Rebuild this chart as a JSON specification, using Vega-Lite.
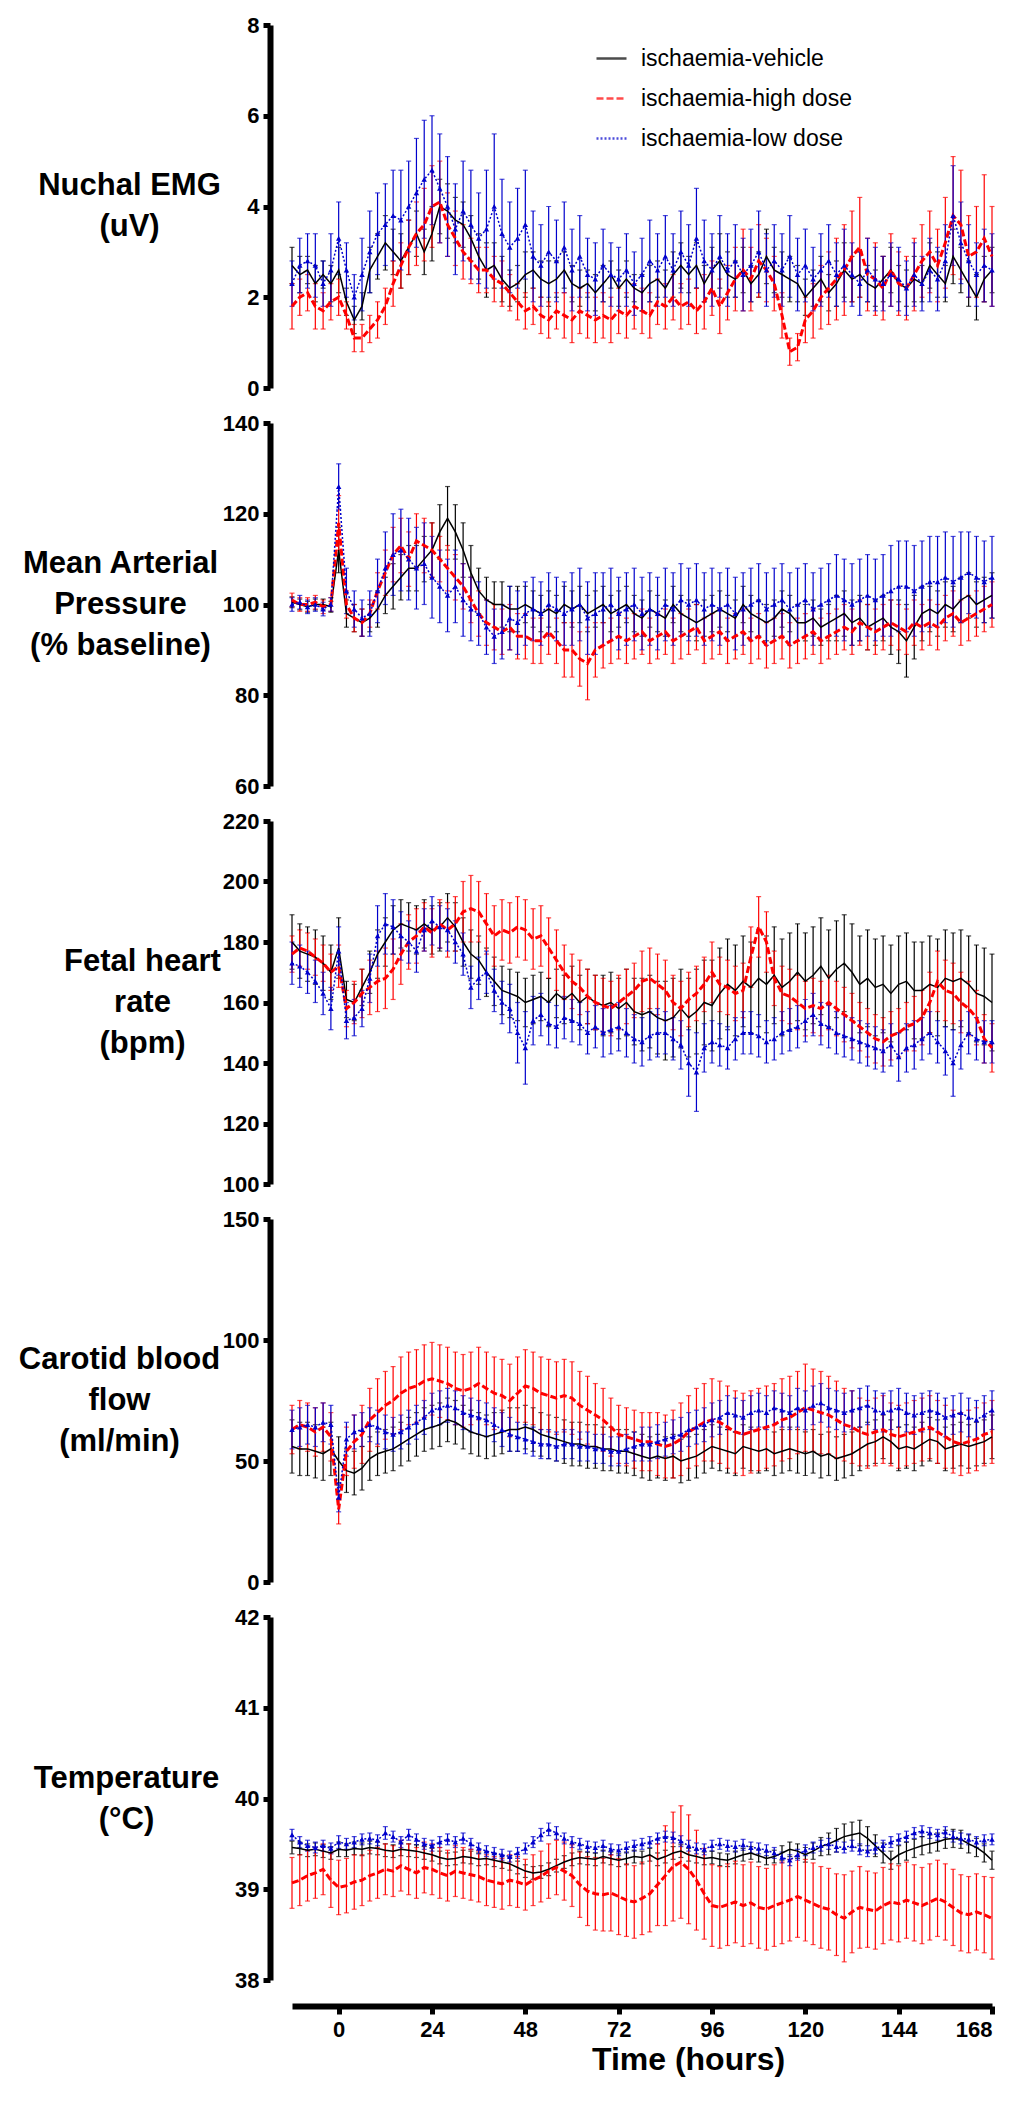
{
  "$schema": "https://vega.github.io/schema/vega-lite/v6.json",
  "background": "white",
  "padding": {"left": 18, "top": 14, "right": 10, "bottom": 10},
  "config": {
    "view": {"stroke": null},
    "font": "Liberation Sans",
    "axis": {
      "grid": false,
      "labelColor": "#000000",
      "labelFont": "Liberation Sans",
      "labelFontWeight": "bold",
      "labelFontSize": 22,
      "titleColor": "#000000",
      "titleFont": "Liberation Sans",
      "titleFontWeight": "bold"
    },
    "axisY": {
      "offset": 22,
      "labelPadding": 4,
      "titleFontSize": 31,
      "titleAngle": 0,
      "titleAlign": "center",
      "titleBaseline": "middle",
      "titleLineHeight": 41
    },
    "axisX": {"offset": 26, "labelPadding": 5, "titleFontSize": 32, "titlePadding": 4}
  },
  "datasets": {
    "emg": [
      {"s":"v","t":-12,"m":2.7,"e":0.4},{"s":"v","t":-10,"m":2.5,"e":0.4},{"s":"v","t":-8,"m":2.6,"e":0.3},{"s":"v","t":-6,"m":2.3,"e":0.4},{"s":"v","t":-4,"m":2.5,"e":0.3},{"s":"v","t":-2,"m":2.3,"e":0.4},{"s":"v","t":0,"m":2.6,"e":0.5},{"s":"v","t":2,"m":1.9,"e":0.3},{"s":"v","t":4,"m":1.5,"e":0.3},{"s":"v","t":6,"m":1.8,"e":0.3},{"s":"v","t":8,"m":2.6,"e":0.5},{"s":"v","t":10,"m":2.9,"e":0.5},{"s":"v","t":12,"m":3.2,"e":0.6},{"s":"v","t":14,"m":3.0,"e":0.5},{"s":"v","t":16,"m":2.8,"e":0.6},{"s":"v","t":18,"m":3.1,"e":0.6},{"s":"v","t":20,"m":3.4,"e":0.5},{"s":"v","t":22,"m":3.0,"e":0.5},{"s":"v","t":24,"m":3.4,"e":0.6},{"s":"v","t":26,"m":4.0,"e":0.6},{"s":"v","t":28,"m":3.9,"e":0.6},{"s":"v","t":30,"m":3.7,"e":0.5},{"s":"v","t":32,"m":3.6,"e":0.5},{"s":"v","t":34,"m":3.3,"e":0.5},{"s":"v","t":36,"m":2.9,"e":0.5},{"s":"v","t":38,"m":2.6,"e":0.6},{"s":"v","t":40,"m":2.7,"e":0.5},{"s":"v","t":42,"m":2.4,"e":0.5},{"s":"v","t":44,"m":2.2,"e":0.4},{"s":"v","t":46,"m":2.3,"e":0.4},{"s":"v","t":48,"m":2.5,"e":0.5},{"s":"v","t":50,"m":2.6,"e":0.4},{"s":"v","t":52,"m":2.4,"e":0.4},{"s":"v","t":54,"m":2.3,"e":0.5},{"s":"v","t":56,"m":2.4,"e":0.4},{"s":"v","t":58,"m":2.6,"e":0.4},{"s":"v","t":60,"m":2.3,"e":0.4},{"s":"v","t":62,"m":2.2,"e":0.4},{"s":"v","t":64,"m":2.3,"e":0.3},{"s":"v","t":66,"m":2.1,"e":0.4},{"s":"v","t":68,"m":2.3,"e":0.4},{"s":"v","t":70,"m":2.5,"e":0.3},{"s":"v","t":72,"m":2.2,"e":0.4},{"s":"v","t":74,"m":2.4,"e":0.4},{"s":"v","t":76,"m":2.2,"e":0.3},{"s":"v","t":78,"m":2.1,"e":0.4},{"s":"v","t":80,"m":2.3,"e":0.4},{"s":"v","t":82,"m":2.4,"e":0.4},{"s":"v","t":84,"m":2.2,"e":0.4},{"s":"v","t":86,"m":2.5,"e":0.5},{"s":"v","t":88,"m":2.7,"e":0.5},{"s":"v","t":90,"m":2.5,"e":0.4},{"s":"v","t":92,"m":2.7,"e":0.5},{"s":"v","t":94,"m":2.3,"e":0.4},{"s":"v","t":96,"m":2.6,"e":0.5},{"s":"v","t":98,"m":2.8,"e":0.6},{"s":"v","t":100,"m":2.5,"e":0.5},{"s":"v","t":102,"m":2.4,"e":0.4},{"s":"v","t":104,"m":2.6,"e":0.5},{"s":"v","t":106,"m":2.3,"e":0.4},{"s":"v","t":108,"m":2.5,"e":0.5},{"s":"v","t":110,"m":2.9,"e":0.6},{"s":"v","t":112,"m":2.6,"e":0.5},{"s":"v","t":114,"m":2.5,"e":0.5},{"s":"v","t":116,"m":2.4,"e":0.5},{"s":"v","t":118,"m":2.3,"e":0.4},{"s":"v","t":120,"m":2.0,"e":0.4},{"s":"v","t":122,"m":2.2,"e":0.4},{"s":"v","t":124,"m":2.4,"e":0.5},{"s":"v","t":126,"m":2.1,"e":0.4},{"s":"v","t":128,"m":2.3,"e":0.5},{"s":"v","t":130,"m":2.6,"e":0.6},{"s":"v","t":132,"m":2.4,"e":0.5},{"s":"v","t":134,"m":2.5,"e":0.5},{"s":"v","t":136,"m":2.3,"e":0.4},{"s":"v","t":138,"m":2.2,"e":0.4},{"s":"v","t":140,"m":2.4,"e":0.5},{"s":"v","t":142,"m":2.6,"e":0.5},{"s":"v","t":144,"m":2.3,"e":0.4},{"s":"v","t":146,"m":2.2,"e":0.4},{"s":"v","t":148,"m":2.4,"e":0.5},{"s":"v","t":150,"m":2.3,"e":0.4},{"s":"v","t":152,"m":2.7,"e":0.5},{"s":"v","t":154,"m":2.5,"e":0.5},{"s":"v","t":156,"m":2.3,"e":0.4},{"s":"v","t":158,"m":2.9,"e":0.6},{"s":"v","t":160,"m":2.6,"e":0.5},{"s":"v","t":162,"m":2.3,"e":0.5},{"s":"v","t":164,"m":2.0,"e":0.5},{"s":"v","t":166,"m":2.4,"e":0.5},{"s":"v","t":168,"m":2.6,"e":0.5},
      {"s":"h","t":-12,"m":1.8,"e":0.5},{"s":"h","t":-10,"m":2.0,"e":0.4},{"s":"h","t":-8,"m":2.1,"e":0.4},{"s":"h","t":-6,"m":1.8,"e":0.5},{"s":"h","t":-4,"m":1.7,"e":0.4},{"s":"h","t":-2,"m":1.9,"e":0.4},{"s":"h","t":0,"m":2.0,"e":0.4},{"s":"h","t":2,"m":1.6,"e":0.3},{"s":"h","t":4,"m":1.1,"e":0.3},{"s":"h","t":6,"m":1.1,"e":0.3},{"s":"h","t":8,"m":1.3,"e":0.3},{"s":"h","t":10,"m":1.5,"e":0.4},{"s":"h","t":12,"m":1.8,"e":0.4},{"s":"h","t":14,"m":2.3,"e":0.5},{"s":"h","t":16,"m":2.7,"e":0.5},{"s":"h","t":18,"m":3.1,"e":0.6},{"s":"h","t":20,"m":3.4,"e":0.7},{"s":"h","t":22,"m":3.6,"e":0.8},{"s":"h","t":24,"m":4.0,"e":0.9},{"s":"h","t":26,"m":4.1,"e":0.9},{"s":"h","t":28,"m":3.6,"e":0.7},{"s":"h","t":30,"m":3.3,"e":0.6},{"s":"h","t":32,"m":3.0,"e":0.6},{"s":"h","t":34,"m":2.8,"e":0.5},{"s":"h","t":36,"m":2.6,"e":0.5},{"s":"h","t":38,"m":2.6,"e":0.5},{"s":"h","t":40,"m":2.4,"e":0.5},{"s":"h","t":42,"m":2.3,"e":0.5},{"s":"h","t":44,"m":2.1,"e":0.4},{"s":"h","t":46,"m":1.9,"e":0.4},{"s":"h","t":48,"m":1.7,"e":0.4},{"s":"h","t":50,"m":1.8,"e":0.4},{"s":"h","t":52,"m":1.6,"e":0.4},{"s":"h","t":54,"m":1.5,"e":0.4},{"s":"h","t":56,"m":1.7,"e":0.4},{"s":"h","t":58,"m":1.6,"e":0.5},{"s":"h","t":60,"m":1.5,"e":0.5},{"s":"h","t":62,"m":1.7,"e":0.5},{"s":"h","t":64,"m":1.6,"e":0.5},{"s":"h","t":66,"m":1.5,"e":0.5},{"s":"h","t":68,"m":1.6,"e":0.5},{"s":"h","t":70,"m":1.5,"e":0.5},{"s":"h","t":72,"m":1.7,"e":0.5},{"s":"h","t":74,"m":1.6,"e":0.5},{"s":"h","t":76,"m":1.8,"e":0.5},{"s":"h","t":78,"m":1.7,"e":0.5},{"s":"h","t":80,"m":1.6,"e":0.5},{"s":"h","t":82,"m":1.9,"e":0.5},{"s":"h","t":84,"m":1.8,"e":0.5},{"s":"h","t":86,"m":2.0,"e":0.5},{"s":"h","t":88,"m":1.8,"e":0.5},{"s":"h","t":90,"m":1.9,"e":0.5},{"s":"h","t":92,"m":1.7,"e":0.5},{"s":"h","t":94,"m":1.9,"e":0.6},{"s":"h","t":96,"m":2.2,"e":0.6},{"s":"h","t":98,"m":1.8,"e":0.6},{"s":"h","t":100,"m":2.1,"e":0.6},{"s":"h","t":102,"m":2.4,"e":0.7},{"s":"h","t":104,"m":2.6,"e":0.9},{"s":"h","t":106,"m":2.4,"e":0.7},{"s":"h","t":108,"m":2.8,"e":0.8},{"s":"h","t":110,"m":2.6,"e":0.7},{"s":"h","t":112,"m":2.3,"e":0.6},{"s":"h","t":114,"m":1.6,"e":0.5},{"s":"h","t":116,"m":0.8,"e":0.3},{"s":"h","t":118,"m":0.9,"e":0.3},{"s":"h","t":120,"m":1.5,"e":0.5},{"s":"h","t":122,"m":1.7,"e":0.6},{"s":"h","t":124,"m":2.0,"e":0.7},{"s":"h","t":126,"m":2.2,"e":0.8},{"s":"h","t":128,"m":2.4,"e":0.9},{"s":"h","t":130,"m":2.6,"e":1.0},{"s":"h","t":132,"m":2.9,"e":1.0},{"s":"h","t":134,"m":3.1,"e":1.1},{"s":"h","t":136,"m":2.5,"e":0.8},{"s":"h","t":138,"m":2.4,"e":0.8},{"s":"h","t":140,"m":2.2,"e":0.7},{"s":"h","t":142,"m":2.6,"e":0.8},{"s":"h","t":144,"m":2.3,"e":0.7},{"s":"h","t":146,"m":2.2,"e":0.7},{"s":"h","t":148,"m":2.5,"e":0.8},{"s":"h","t":150,"m":2.8,"e":0.8},{"s":"h","t":152,"m":3.0,"e":0.9},{"s":"h","t":154,"m":2.7,"e":0.8},{"s":"h","t":156,"m":3.2,"e":1.0},{"s":"h","t":158,"m":3.8,"e":1.3},{"s":"h","t":160,"m":3.6,"e":1.2},{"s":"h","t":162,"m":2.9,"e":0.9},{"s":"h","t":164,"m":3.0,"e":1.0},{"s":"h","t":166,"m":3.3,"e":1.4},{"s":"h","t":168,"m":2.9,"e":1.1},
      {"s":"l","t":-12,"m":2.3,"e":0.5},{"s":"l","t":-10,"m":2.7,"e":0.6},{"s":"l","t":-8,"m":2.8,"e":0.6},{"s":"l","t":-6,"m":2.7,"e":0.7},{"s":"l","t":-4,"m":2.3,"e":0.5},{"s":"l","t":-2,"m":2.6,"e":0.8},{"s":"l","t":0,"m":3.3,"e":0.8},{"s":"l","t":2,"m":2.6,"e":0.6},{"s":"l","t":4,"m":2.0,"e":0.5},{"s":"l","t":6,"m":2.5,"e":0.8},{"s":"l","t":8,"m":3.0,"e":0.9},{"s":"l","t":10,"m":3.4,"e":0.9},{"s":"l","t":12,"m":3.6,"e":0.9},{"s":"l","t":14,"m":3.8,"e":1.0},{"s":"l","t":16,"m":3.7,"e":1.1},{"s":"l","t":18,"m":4.0,"e":1.0},{"s":"l","t":20,"m":4.3,"e":1.2},{"s":"l","t":22,"m":4.6,"e":1.3},{"s":"l","t":24,"m":4.8,"e":1.2},{"s":"l","t":26,"m":4.4,"e":1.2},{"s":"l","t":28,"m":4.0,"e":1.1},{"s":"l","t":30,"m":3.5,"e":1.0},{"s":"l","t":32,"m":3.9,"e":1.1},{"s":"l","t":34,"m":3.6,"e":1.2},{"s":"l","t":36,"m":3.3,"e":1.0},{"s":"l","t":38,"m":3.5,"e":1.3},{"s":"l","t":40,"m":4.0,"e":1.6},{"s":"l","t":42,"m":3.4,"e":1.2},{"s":"l","t":44,"m":3.1,"e":1.0},{"s":"l","t":46,"m":3.3,"e":1.1},{"s":"l","t":48,"m":3.6,"e":1.2},{"s":"l","t":50,"m":2.9,"e":1.0},{"s":"l","t":52,"m":2.7,"e":0.9},{"s":"l","t":54,"m":3.0,"e":1.0},{"s":"l","t":56,"m":2.8,"e":0.9},{"s":"l","t":58,"m":3.1,"e":1.0},{"s":"l","t":60,"m":2.6,"e":0.9},{"s":"l","t":62,"m":2.9,"e":0.9},{"s":"l","t":64,"m":2.5,"e":0.8},{"s":"l","t":66,"m":2.4,"e":0.8},{"s":"l","t":68,"m":2.7,"e":0.8},{"s":"l","t":70,"m":2.5,"e":0.7},{"s":"l","t":72,"m":2.4,"e":0.7},{"s":"l","t":74,"m":2.6,"e":0.8},{"s":"l","t":76,"m":2.3,"e":0.7},{"s":"l","t":78,"m":2.5,"e":0.8},{"s":"l","t":80,"m":2.8,"e":0.9},{"s":"l","t":82,"m":2.6,"e":0.8},{"s":"l","t":84,"m":2.9,"e":0.9},{"s":"l","t":86,"m":2.6,"e":0.8},{"s":"l","t":88,"m":3.0,"e":0.9},{"s":"l","t":90,"m":2.7,"e":0.9},{"s":"l","t":92,"m":3.3,"e":1.1},{"s":"l","t":94,"m":2.8,"e":0.9},{"s":"l","t":96,"m":2.6,"e":0.8},{"s":"l","t":98,"m":2.9,"e":0.9},{"s":"l","t":100,"m":2.6,"e":0.8},{"s":"l","t":102,"m":2.8,"e":0.8},{"s":"l","t":104,"m":2.5,"e":0.8},{"s":"l","t":106,"m":2.7,"e":0.8},{"s":"l","t":108,"m":3.0,"e":0.9},{"s":"l","t":110,"m":2.6,"e":0.8},{"s":"l","t":112,"m":2.8,"e":0.8},{"s":"l","t":114,"m":2.6,"e":0.8},{"s":"l","t":116,"m":2.9,"e":0.9},{"s":"l","t":118,"m":2.5,"e":0.8},{"s":"l","t":120,"m":2.7,"e":0.8},{"s":"l","t":122,"m":2.4,"e":0.7},{"s":"l","t":124,"m":2.6,"e":0.8},{"s":"l","t":126,"m":2.8,"e":0.8},{"s":"l","t":128,"m":2.5,"e":0.7},{"s":"l","t":130,"m":2.7,"e":0.8},{"s":"l","t":132,"m":2.5,"e":0.7},{"s":"l","t":134,"m":2.3,"e":0.7},{"s":"l","t":136,"m":2.6,"e":0.7},{"s":"l","t":138,"m":2.4,"e":0.7},{"s":"l","t":140,"m":2.3,"e":0.6},{"s":"l","t":142,"m":2.5,"e":0.7},{"s":"l","t":144,"m":2.4,"e":0.7},{"s":"l","t":146,"m":2.2,"e":0.6},{"s":"l","t":148,"m":2.5,"e":0.7},{"s":"l","t":150,"m":2.3,"e":0.6},{"s":"l","t":152,"m":2.6,"e":0.7},{"s":"l","t":154,"m":2.4,"e":0.7},{"s":"l","t":156,"m":2.8,"e":0.8},{"s":"l","t":158,"m":3.8,"e":1.1},{"s":"l","t":160,"m":3.2,"e":0.9},{"s":"l","t":162,"m":2.8,"e":0.8},{"s":"l","t":164,"m":2.5,"e":0.7},{"s":"l","t":166,"m":2.7,"e":0.8},{"s":"l","t":168,"m":2.6,"e":0.8}
    ],
    "map": [
      {"s":"v","t":-12,"m":100.5,"e":1.2},{"s":"v","t":-10,"m":100,"e":1.2},{"s":"v","t":-8,"m":99.5,"e":1.2},{"s":"v","t":-6,"m":100,"e":1.2},{"s":"v","t":-4,"m":100,"e":1.2},{"s":"v","t":-2,"m":99.5,"e":1.2},{"s":"v","t":0,"m":112,"e":5},{"s":"v","t":2,"m":98,"e":3},{"s":"v","t":4,"m":97,"e":3},{"s":"v","t":6,"m":96,"e":3},{"s":"v","t":8,"m":97,"e":3},{"s":"v","t":10,"m":99,"e":4},{"s":"v","t":12,"m":102,"e":4},{"s":"v","t":14,"m":104,"e":5},{"s":"v","t":16,"m":106,"e":5},{"s":"v","t":18,"m":108,"e":5},{"s":"v","t":20,"m":108,"e":5},{"s":"v","t":22,"m":110,"e":5},{"s":"v","t":24,"m":112,"e":6},{"s":"v","t":26,"m":116,"e":6},{"s":"v","t":28,"m":119,"e":7},{"s":"v","t":30,"m":116,"e":6},{"s":"v","t":32,"m":112,"e":6},{"s":"v","t":34,"m":107,"e":6},{"s":"v","t":36,"m":103,"e":5},{"s":"v","t":38,"m":101,"e":5},{"s":"v","t":40,"m":100,"e":5},{"s":"v","t":42,"m":100,"e":5},{"s":"v","t":44,"m":99,"e":5},{"s":"v","t":46,"m":99,"e":5},{"s":"v","t":48,"m":100,"e":4},{"s":"v","t":50,"m":99,"e":4},{"s":"v","t":52,"m":98,"e":4},{"s":"v","t":54,"m":99,"e":4},{"s":"v","t":56,"m":98,"e":4},{"s":"v","t":58,"m":100,"e":4},{"s":"v","t":60,"m":99,"e":4},{"s":"v","t":62,"m":100,"e":4},{"s":"v","t":64,"m":98,"e":4},{"s":"v","t":66,"m":99,"e":4},{"s":"v","t":68,"m":100,"e":4},{"s":"v","t":70,"m":98,"e":4},{"s":"v","t":72,"m":99,"e":4},{"s":"v","t":74,"m":100,"e":4},{"s":"v","t":76,"m":98,"e":4},{"s":"v","t":78,"m":97,"e":4},{"s":"v","t":80,"m":99,"e":4},{"s":"v","t":82,"m":98,"e":4},{"s":"v","t":84,"m":97,"e":4},{"s":"v","t":86,"m":100,"e":4},{"s":"v","t":88,"m":98,"e":4},{"s":"v","t":90,"m":97,"e":4},{"s":"v","t":92,"m":96,"e":4},{"s":"v","t":94,"m":97,"e":4},{"s":"v","t":96,"m":98,"e":4},{"s":"v","t":98,"m":99,"e":4},{"s":"v","t":100,"m":98,"e":4},{"s":"v","t":102,"m":97,"e":4},{"s":"v","t":104,"m":100,"e":4},{"s":"v","t":106,"m":98,"e":4},{"s":"v","t":108,"m":97,"e":4},{"s":"v","t":110,"m":96,"e":4},{"s":"v","t":112,"m":97,"e":4},{"s":"v","t":114,"m":99,"e":4},{"s":"v","t":116,"m":98,"e":4},{"s":"v","t":118,"m":96,"e":4},{"s":"v","t":120,"m":96,"e":4},{"s":"v","t":122,"m":97,"e":4},{"s":"v","t":124,"m":95,"e":4},{"s":"v","t":126,"m":96,"e":4},{"s":"v","t":128,"m":97,"e":5},{"s":"v","t":130,"m":98,"e":5},{"s":"v","t":132,"m":96,"e":5},{"s":"v","t":134,"m":97,"e":5},{"s":"v","t":136,"m":95,"e":5},{"s":"v","t":138,"m":96,"e":5},{"s":"v","t":140,"m":97,"e":5},{"s":"v","t":142,"m":95,"e":6},{"s":"v","t":144,"m":94,"e":7},{"s":"v","t":146,"m":92,"e":8},{"s":"v","t":148,"m":95,"e":7},{"s":"v","t":150,"m":98,"e":6},{"s":"v","t":152,"m":99,"e":5},{"s":"v","t":154,"m":98,"e":5},{"s":"v","t":156,"m":100,"e":5},{"s":"v","t":158,"m":99,"e":5},{"s":"v","t":160,"m":101,"e":5},{"s":"v","t":162,"m":102,"e":5},{"s":"v","t":164,"m":100,"e":5},{"s":"v","t":166,"m":101,"e":5},{"s":"v","t":168,"m":102,"e":5},
      {"s":"h","t":-12,"m":101,"e":1.5},{"s":"h","t":-10,"m":100,"e":1.5},{"s":"h","t":-8,"m":100,"e":1.5},{"s":"h","t":-6,"m":100.5,"e":1.5},{"s":"h","t":-4,"m":99.5,"e":1.5},{"s":"h","t":-2,"m":100,"e":1.5},{"s":"h","t":0,"m":118,"e":6},{"s":"h","t":2,"m":100,"e":3},{"s":"h","t":4,"m":97,"e":3},{"s":"h","t":6,"m":96,"e":3},{"s":"h","t":8,"m":98,"e":3},{"s":"h","t":10,"m":103,"e":4},{"s":"h","t":12,"m":107,"e":5},{"s":"h","t":14,"m":111,"e":6},{"s":"h","t":16,"m":113,"e":6},{"s":"h","t":18,"m":110,"e":6},{"s":"h","t":20,"m":114,"e":6},{"s":"h","t":22,"m":113,"e":6},{"s":"h","t":24,"m":112,"e":6},{"s":"h","t":26,"m":110,"e":5},{"s":"h","t":28,"m":108,"e":5},{"s":"h","t":30,"m":106,"e":5},{"s":"h","t":32,"m":104,"e":5},{"s":"h","t":34,"m":101,"e":5},{"s":"h","t":36,"m":98,"e":5},{"s":"h","t":38,"m":96,"e":5},{"s":"h","t":40,"m":95,"e":5},{"s":"h","t":42,"m":94,"e":5},{"s":"h","t":44,"m":95,"e":5},{"s":"h","t":46,"m":93,"e":5},{"s":"h","t":48,"m":93,"e":5},{"s":"h","t":50,"m":92,"e":5},{"s":"h","t":52,"m":92,"e":5},{"s":"h","t":54,"m":94,"e":5},{"s":"h","t":56,"m":92,"e":5},{"s":"h","t":58,"m":90,"e":6},{"s":"h","t":60,"m":90,"e":6},{"s":"h","t":62,"m":88,"e":6},{"s":"h","t":64,"m":87,"e":8},{"s":"h","t":66,"m":90,"e":6},{"s":"h","t":68,"m":91,"e":5},{"s":"h","t":70,"m":92,"e":5},{"s":"h","t":72,"m":93,"e":5},{"s":"h","t":74,"m":92,"e":5},{"s":"h","t":76,"m":93,"e":5},{"s":"h","t":78,"m":94,"e":5},{"s":"h","t":80,"m":92,"e":5},{"s":"h","t":82,"m":93,"e":5},{"s":"h","t":84,"m":94,"e":5},{"s":"h","t":86,"m":92,"e":5},{"s":"h","t":88,"m":93,"e":5},{"s":"h","t":90,"m":94,"e":5},{"s":"h","t":92,"m":95,"e":5},{"s":"h","t":94,"m":92,"e":5},{"s":"h","t":96,"m":93,"e":5},{"s":"h","t":98,"m":94,"e":5},{"s":"h","t":100,"m":92,"e":5},{"s":"h","t":102,"m":93,"e":5},{"s":"h","t":104,"m":94,"e":5},{"s":"h","t":106,"m":92,"e":5},{"s":"h","t":108,"m":93,"e":5},{"s":"h","t":110,"m":91,"e":5},{"s":"h","t":112,"m":92,"e":5},{"s":"h","t":114,"m":93,"e":5},{"s":"h","t":116,"m":91,"e":5},{"s":"h","t":118,"m":92,"e":5},{"s":"h","t":120,"m":93,"e":5},{"s":"h","t":122,"m":94,"e":5},{"s":"h","t":124,"m":92,"e":5},{"s":"h","t":126,"m":93,"e":5},{"s":"h","t":128,"m":94,"e":5},{"s":"h","t":130,"m":95,"e":5},{"s":"h","t":132,"m":94,"e":5},{"s":"h","t":134,"m":96,"e":5},{"s":"h","t":136,"m":95,"e":5},{"s":"h","t":138,"m":94,"e":5},{"s":"h","t":140,"m":95,"e":5},{"s":"h","t":142,"m":96,"e":5},{"s":"h","t":144,"m":95,"e":5},{"s":"h","t":146,"m":94,"e":5},{"s":"h","t":148,"m":96,"e":5},{"s":"h","t":150,"m":95,"e":5},{"s":"h","t":152,"m":96,"e":5},{"s":"h","t":154,"m":95,"e":5},{"s":"h","t":156,"m":97,"e":5},{"s":"h","t":158,"m":98,"e":5},{"s":"h","t":160,"m":96,"e":5},{"s":"h","t":162,"m":97,"e":5},{"s":"h","t":164,"m":98,"e":5},{"s":"h","t":166,"m":99,"e":5},{"s":"h","t":168,"m":100,"e":5},
      {"s":"l","t":-12,"m":100,"e":1.5},{"s":"l","t":-10,"m":100.5,"e":1.5},{"s":"l","t":-8,"m":99.5,"e":1.5},{"s":"l","t":-6,"m":100,"e":1.5},{"s":"l","t":-4,"m":99,"e":1.5},{"s":"l","t":-2,"m":100,"e":1.5},{"s":"l","t":0,"m":126,"e":5},{"s":"l","t":2,"m":103,"e":5},{"s":"l","t":4,"m":99,"e":4},{"s":"l","t":6,"m":97,"e":4},{"s":"l","t":8,"m":98,"e":5},{"s":"l","t":10,"m":103,"e":7},{"s":"l","t":12,"m":108,"e":8},{"s":"l","t":14,"m":111,"e":9},{"s":"l","t":16,"m":112,"e":9},{"s":"l","t":18,"m":110,"e":9},{"s":"l","t":20,"m":108,"e":9},{"s":"l","t":22,"m":109,"e":9},{"s":"l","t":24,"m":106,"e":9},{"s":"l","t":26,"m":104,"e":8},{"s":"l","t":28,"m":102,"e":8},{"s":"l","t":30,"m":104,"e":8},{"s":"l","t":32,"m":101,"e":8},{"s":"l","t":34,"m":99,"e":7},{"s":"l","t":36,"m":98,"e":7},{"s":"l","t":38,"m":95,"e":6},{"s":"l","t":40,"m":93,"e":6},{"s":"l","t":42,"m":94,"e":6},{"s":"l","t":44,"m":97,"e":7},{"s":"l","t":46,"m":96,"e":7},{"s":"l","t":48,"m":98,"e":7},{"s":"l","t":50,"m":99,"e":7},{"s":"l","t":52,"m":98,"e":7},{"s":"l","t":54,"m":100,"e":7},{"s":"l","t":56,"m":99,"e":7},{"s":"l","t":58,"m":98,"e":7},{"s":"l","t":60,"m":99,"e":8},{"s":"l","t":62,"m":100,"e":8},{"s":"l","t":64,"m":97,"e":8},{"s":"l","t":66,"m":98,"e":9},{"s":"l","t":68,"m":99,"e":8},{"s":"l","t":70,"m":100,"e":8},{"s":"l","t":72,"m":98,"e":8},{"s":"l","t":74,"m":99,"e":8},{"s":"l","t":76,"m":100,"e":8},{"s":"l","t":78,"m":98,"e":8},{"s":"l","t":80,"m":99,"e":8},{"s":"l","t":82,"m":98,"e":8},{"s":"l","t":84,"m":100,"e":8},{"s":"l","t":86,"m":99,"e":8},{"s":"l","t":88,"m":101,"e":8},{"s":"l","t":90,"m":100,"e":8},{"s":"l","t":92,"m":101,"e":8},{"s":"l","t":94,"m":99,"e":8},{"s":"l","t":96,"m":100,"e":8},{"s":"l","t":98,"m":99,"e":8},{"s":"l","t":100,"m":100,"e":8},{"s":"l","t":102,"m":98,"e":8},{"s":"l","t":104,"m":99,"e":8},{"s":"l","t":106,"m":100,"e":8},{"s":"l","t":108,"m":101,"e":8},{"s":"l","t":110,"m":99,"e":8},{"s":"l","t":112,"m":100,"e":8},{"s":"l","t":114,"m":101,"e":8},{"s":"l","t":116,"m":99,"e":8},{"s":"l","t":118,"m":100,"e":8},{"s":"l","t":120,"m":101,"e":8},{"s":"l","t":122,"m":99,"e":8},{"s":"l","t":124,"m":100,"e":8},{"s":"l","t":126,"m":101,"e":8},{"s":"l","t":128,"m":102,"e":9},{"s":"l","t":130,"m":101,"e":9},{"s":"l","t":132,"m":100,"e":9},{"s":"l","t":134,"m":101,"e":9},{"s":"l","t":136,"m":102,"e":9},{"s":"l","t":138,"m":101,"e":9},{"s":"l","t":140,"m":102,"e":9},{"s":"l","t":142,"m":103,"e":10},{"s":"l","t":144,"m":104,"e":10},{"s":"l","t":146,"m":104,"e":10},{"s":"l","t":148,"m":103,"e":10},{"s":"l","t":150,"m":104,"e":10},{"s":"l","t":152,"m":105,"e":10},{"s":"l","t":154,"m":105,"e":10},{"s":"l","t":156,"m":106,"e":10},{"s":"l","t":158,"m":105,"e":10},{"s":"l","t":160,"m":106,"e":10},{"s":"l","t":162,"m":107,"e":9},{"s":"l","t":164,"m":106,"e":9},{"s":"l","t":166,"m":105,"e":9},{"s":"l","t":168,"m":106,"e":9}
    ],
    "fhr": [
      {"s":"v","t":-12,"m":180,"e":9},{"s":"v","t":-10,"m":177,"e":9},{"s":"v","t":-8,"m":176,"e":9},{"s":"v","t":-6,"m":175,"e":9},{"s":"v","t":-4,"m":173,"e":9},{"s":"v","t":-2,"m":170,"e":9},{"s":"v","t":0,"m":178,"e":10},{"s":"v","t":2,"m":161,"e":6},{"s":"v","t":4,"m":160,"e":6},{"s":"v","t":6,"m":165,"e":6},{"s":"v","t":8,"m":170,"e":7},{"s":"v","t":10,"m":176,"e":8},{"s":"v","t":12,"m":180,"e":8},{"s":"v","t":14,"m":184,"e":8},{"s":"v","t":16,"m":186,"e":8},{"s":"v","t":18,"m":185,"e":8},{"s":"v","t":20,"m":184,"e":8},{"s":"v","t":22,"m":186,"e":8},{"s":"v","t":24,"m":184,"e":8},{"s":"v","t":26,"m":185,"e":8},{"s":"v","t":28,"m":188,"e":8},{"s":"v","t":30,"m":185,"e":8},{"s":"v","t":32,"m":180,"e":8},{"s":"v","t":34,"m":176,"e":8},{"s":"v","t":36,"m":174,"e":8},{"s":"v","t":38,"m":170,"e":8},{"s":"v","t":40,"m":167,"e":8},{"s":"v","t":42,"m":164,"e":8},{"s":"v","t":44,"m":163,"e":8},{"s":"v","t":46,"m":162,"e":8},{"s":"v","t":48,"m":160,"e":8},{"s":"v","t":50,"m":161,"e":8},{"s":"v","t":52,"m":162,"e":8},{"s":"v","t":54,"m":160,"e":8},{"s":"v","t":56,"m":163,"e":8},{"s":"v","t":58,"m":161,"e":8},{"s":"v","t":60,"m":163,"e":9},{"s":"v","t":62,"m":160,"e":9},{"s":"v","t":64,"m":162,"e":9},{"s":"v","t":66,"m":160,"e":9},{"s":"v","t":68,"m":159,"e":10},{"s":"v","t":70,"m":160,"e":10},{"s":"v","t":72,"m":158,"e":10},{"s":"v","t":74,"m":160,"e":11},{"s":"v","t":76,"m":157,"e":11},{"s":"v","t":78,"m":156,"e":12},{"s":"v","t":80,"m":157,"e":12},{"s":"v","t":82,"m":155,"e":12},{"s":"v","t":84,"m":154,"e":13},{"s":"v","t":86,"m":155,"e":13},{"s":"v","t":88,"m":158,"e":13},{"s":"v","t":90,"m":155,"e":13},{"s":"v","t":92,"m":157,"e":14},{"s":"v","t":94,"m":160,"e":14},{"s":"v","t":96,"m":159,"e":15},{"s":"v","t":98,"m":163,"e":15},{"s":"v","t":100,"m":166,"e":15},{"s":"v","t":102,"m":164,"e":15},{"s":"v","t":104,"m":167,"e":15},{"s":"v","t":106,"m":165,"e":15},{"s":"v","t":108,"m":168,"e":16},{"s":"v","t":110,"m":166,"e":16},{"s":"v","t":112,"m":169,"e":16},{"s":"v","t":114,"m":165,"e":16},{"s":"v","t":116,"m":167,"e":16},{"s":"v","t":118,"m":170,"e":16},{"s":"v","t":120,"m":167,"e":16},{"s":"v","t":122,"m":169,"e":16},{"s":"v","t":124,"m":172,"e":16},{"s":"v","t":126,"m":168,"e":16},{"s":"v","t":128,"m":171,"e":16},{"s":"v","t":130,"m":173,"e":16},{"s":"v","t":132,"m":170,"e":16},{"s":"v","t":134,"m":166,"e":16},{"s":"v","t":136,"m":168,"e":16},{"s":"v","t":138,"m":165,"e":16},{"s":"v","t":140,"m":166,"e":16},{"s":"v","t":142,"m":163,"e":16},{"s":"v","t":144,"m":166,"e":16},{"s":"v","t":146,"m":167,"e":16},{"s":"v","t":148,"m":164,"e":16},{"s":"v","t":150,"m":164,"e":16},{"s":"v","t":152,"m":166,"e":16},{"s":"v","t":154,"m":165,"e":16},{"s":"v","t":156,"m":168,"e":16},{"s":"v","t":158,"m":167,"e":16},{"s":"v","t":160,"m":168,"e":16},{"s":"v","t":162,"m":166,"e":16},{"s":"v","t":164,"m":163,"e":16},{"s":"v","t":166,"m":162,"e":16},{"s":"v","t":168,"m":160,"e":16},
      {"s":"h","t":-12,"m":176,"e":6},{"s":"h","t":-10,"m":178,"e":6},{"s":"h","t":-8,"m":177,"e":6},{"s":"h","t":-6,"m":175,"e":6},{"s":"h","t":-4,"m":173,"e":6},{"s":"h","t":-2,"m":170,"e":6},{"s":"h","t":0,"m":172,"e":7},{"s":"h","t":2,"m":158,"e":6},{"s":"h","t":4,"m":160,"e":7},{"s":"h","t":6,"m":163,"e":8},{"s":"h","t":8,"m":165,"e":9},{"s":"h","t":10,"m":167,"e":10},{"s":"h","t":12,"m":168,"e":10},{"s":"h","t":14,"m":171,"e":10},{"s":"h","t":16,"m":176,"e":10},{"s":"h","t":18,"m":180,"e":9},{"s":"h","t":20,"m":182,"e":9},{"s":"h","t":22,"m":185,"e":8},{"s":"h","t":24,"m":183,"e":8},{"s":"h","t":26,"m":186,"e":8},{"s":"h","t":28,"m":184,"e":9},{"s":"h","t":30,"m":186,"e":9},{"s":"h","t":32,"m":190,"e":10},{"s":"h","t":34,"m":191,"e":11},{"s":"h","t":36,"m":190,"e":10},{"s":"h","t":38,"m":186,"e":10},{"s":"h","t":40,"m":182,"e":10},{"s":"h","t":42,"m":184,"e":10},{"s":"h","t":44,"m":183,"e":10},{"s":"h","t":46,"m":185,"e":10},{"s":"h","t":48,"m":184,"e":10},{"s":"h","t":50,"m":181,"e":10},{"s":"h","t":52,"m":182,"e":10},{"s":"h","t":54,"m":178,"e":10},{"s":"h","t":56,"m":174,"e":10},{"s":"h","t":58,"m":170,"e":9},{"s":"h","t":60,"m":167,"e":9},{"s":"h","t":62,"m":165,"e":9},{"s":"h","t":64,"m":162,"e":9},{"s":"h","t":66,"m":160,"e":9},{"s":"h","t":68,"m":159,"e":9},{"s":"h","t":70,"m":158,"e":9},{"s":"h","t":72,"m":160,"e":9},{"s":"h","t":74,"m":162,"e":9},{"s":"h","t":76,"m":164,"e":9},{"s":"h","t":78,"m":167,"e":10},{"s":"h","t":80,"m":168,"e":10},{"s":"h","t":82,"m":166,"e":10},{"s":"h","t":84,"m":164,"e":10},{"s":"h","t":86,"m":160,"e":9},{"s":"h","t":88,"m":158,"e":9},{"s":"h","t":90,"m":161,"e":9},{"s":"h","t":92,"m":163,"e":9},{"s":"h","t":94,"m":166,"e":9},{"s":"h","t":96,"m":170,"e":10},{"s":"h","t":98,"m":166,"e":9},{"s":"h","t":100,"m":165,"e":9},{"s":"h","t":102,"m":163,"e":9},{"s":"h","t":104,"m":164,"e":9},{"s":"h","t":106,"m":175,"e":10},{"s":"h","t":108,"m":185,"e":10},{"s":"h","t":110,"m":180,"e":10},{"s":"h","t":112,"m":168,"e":9},{"s":"h","t":114,"m":163,"e":9},{"s":"h","t":116,"m":162,"e":9},{"s":"h","t":118,"m":160,"e":9},{"s":"h","t":120,"m":158,"e":9},{"s":"h","t":122,"m":159,"e":9},{"s":"h","t":124,"m":158,"e":9},{"s":"h","t":126,"m":160,"e":9},{"s":"h","t":128,"m":158,"e":9},{"s":"h","t":130,"m":156,"e":9},{"s":"h","t":132,"m":154,"e":9},{"s":"h","t":134,"m":152,"e":8},{"s":"h","t":136,"m":150,"e":8},{"s":"h","t":138,"m":148,"e":8},{"s":"h","t":140,"m":147,"e":8},{"s":"h","t":142,"m":149,"e":8},{"s":"h","t":144,"m":150,"e":8},{"s":"h","t":146,"m":152,"e":8},{"s":"h","t":148,"m":153,"e":9},{"s":"h","t":150,"m":155,"e":9},{"s":"h","t":152,"m":160,"e":10},{"s":"h","t":154,"m":167,"e":10},{"s":"h","t":156,"m":164,"e":10},{"s":"h","t":158,"m":163,"e":10},{"s":"h","t":160,"m":160,"e":10},{"s":"h","t":162,"m":158,"e":9},{"s":"h","t":164,"m":155,"e":9},{"s":"h","t":166,"m":148,"e":8},{"s":"h","t":168,"m":145,"e":8},
      {"s":"l","t":-12,"m":173,"e":7},{"s":"l","t":-10,"m":172,"e":7},{"s":"l","t":-8,"m":170,"e":7},{"s":"l","t":-6,"m":167,"e":7},{"s":"l","t":-4,"m":163,"e":7},{"s":"l","t":-2,"m":158,"e":7},{"s":"l","t":0,"m":177,"e":8},{"s":"l","t":2,"m":154,"e":6},{"s":"l","t":4,"m":155,"e":6},{"s":"l","t":6,"m":158,"e":6},{"s":"l","t":8,"m":168,"e":8},{"s":"l","t":10,"m":182,"e":10},{"s":"l","t":12,"m":186,"e":10},{"s":"l","t":14,"m":185,"e":9},{"s":"l","t":16,"m":182,"e":8},{"s":"l","t":18,"m":180,"e":7},{"s":"l","t":20,"m":177,"e":7},{"s":"l","t":22,"m":184,"e":7},{"s":"l","t":24,"m":187,"e":8},{"s":"l","t":26,"m":185,"e":7},{"s":"l","t":28,"m":184,"e":7},{"s":"l","t":30,"m":180,"e":7},{"s":"l","t":32,"m":176,"e":7},{"s":"l","t":34,"m":165,"e":7},{"s":"l","t":36,"m":168,"e":7},{"s":"l","t":38,"m":170,"e":7},{"s":"l","t":40,"m":164,"e":7},{"s":"l","t":42,"m":160,"e":7},{"s":"l","t":44,"m":158,"e":8},{"s":"l","t":46,"m":150,"e":10},{"s":"l","t":48,"m":145,"e":12},{"s":"l","t":50,"m":154,"e":8},{"s":"l","t":52,"m":156,"e":7},{"s":"l","t":54,"m":153,"e":7},{"s":"l","t":56,"m":152,"e":7},{"s":"l","t":58,"m":155,"e":7},{"s":"l","t":60,"m":154,"e":7},{"s":"l","t":62,"m":153,"e":7},{"s":"l","t":64,"m":150,"e":7},{"s":"l","t":66,"m":152,"e":7},{"s":"l","t":68,"m":150,"e":8},{"s":"l","t":70,"m":151,"e":8},{"s":"l","t":72,"m":152,"e":8},{"s":"l","t":74,"m":150,"e":8},{"s":"l","t":76,"m":148,"e":8},{"s":"l","t":78,"m":147,"e":8},{"s":"l","t":80,"m":149,"e":8},{"s":"l","t":82,"m":150,"e":8},{"s":"l","t":84,"m":150,"e":7},{"s":"l","t":86,"m":148,"e":7},{"s":"l","t":88,"m":146,"e":8},{"s":"l","t":90,"m":140,"e":11},{"s":"l","t":92,"m":137,"e":13},{"s":"l","t":94,"m":145,"e":8},{"s":"l","t":96,"m":147,"e":7},{"s":"l","t":98,"m":146,"e":7},{"s":"l","t":100,"m":145,"e":7},{"s":"l","t":102,"m":148,"e":7},{"s":"l","t":104,"m":150,"e":7},{"s":"l","t":106,"m":150,"e":7},{"s":"l","t":108,"m":149,"e":7},{"s":"l","t":110,"m":147,"e":7},{"s":"l","t":112,"m":148,"e":7},{"s":"l","t":114,"m":150,"e":7},{"s":"l","t":116,"m":151,"e":7},{"s":"l","t":118,"m":152,"e":7},{"s":"l","t":120,"m":154,"e":7},{"s":"l","t":122,"m":156,"e":7},{"s":"l","t":124,"m":153,"e":7},{"s":"l","t":126,"m":152,"e":7},{"s":"l","t":128,"m":150,"e":7},{"s":"l","t":130,"m":149,"e":7},{"s":"l","t":132,"m":148,"e":7},{"s":"l","t":134,"m":147,"e":7},{"s":"l","t":136,"m":146,"e":7},{"s":"l","t":138,"m":145,"e":7},{"s":"l","t":140,"m":144,"e":7},{"s":"l","t":142,"m":146,"e":7},{"s":"l","t":144,"m":142,"e":8},{"s":"l","t":146,"m":145,"e":8},{"s":"l","t":148,"m":146,"e":8},{"s":"l","t":150,"m":148,"e":7},{"s":"l","t":152,"m":150,"e":7},{"s":"l","t":154,"m":147,"e":7},{"s":"l","t":156,"m":144,"e":8},{"s":"l","t":158,"m":140,"e":11},{"s":"l","t":160,"m":146,"e":8},{"s":"l","t":162,"m":150,"e":7},{"s":"l","t":164,"m":148,"e":7},{"s":"l","t":166,"m":147,"e":7},{"s":"l","t":168,"m":147,"e":7}
    ],
    "cbf": [
      {"s":"v","t":-12,"m":56,"e":11},{"s":"v","t":-10,"m":55,"e":11},{"s":"v","t":-8,"m":55,"e":11},{"s":"v","t":-6,"m":54,"e":11},{"s":"v","t":-4,"m":53,"e":11},{"s":"v","t":-2,"m":55,"e":11},{"s":"v","t":0,"m":50,"e":10},{"s":"v","t":2,"m":46,"e":9},{"s":"v","t":4,"m":45,"e":9},{"s":"v","t":6,"m":47,"e":9},{"s":"v","t":8,"m":51,"e":9},{"s":"v","t":10,"m":53,"e":9},{"s":"v","t":12,"m":54,"e":9},{"s":"v","t":14,"m":55,"e":9},{"s":"v","t":16,"m":57,"e":9},{"s":"v","t":18,"m":59,"e":9},{"s":"v","t":20,"m":61,"e":9},{"s":"v","t":22,"m":63,"e":9},{"s":"v","t":24,"m":64,"e":9},{"s":"v","t":26,"m":65,"e":9},{"s":"v","t":28,"m":67,"e":9},{"s":"v","t":30,"m":66,"e":9},{"s":"v","t":32,"m":64,"e":9},{"s":"v","t":34,"m":62,"e":9},{"s":"v","t":36,"m":61,"e":9},{"s":"v","t":38,"m":60,"e":9},{"s":"v","t":40,"m":61,"e":9},{"s":"v","t":42,"m":62,"e":9},{"s":"v","t":44,"m":63,"e":9},{"s":"v","t":46,"m":63,"e":9},{"s":"v","t":48,"m":64,"e":9},{"s":"v","t":50,"m":63,"e":9},{"s":"v","t":52,"m":61,"e":9},{"s":"v","t":54,"m":60,"e":9},{"s":"v","t":56,"m":59,"e":9},{"s":"v","t":58,"m":58,"e":9},{"s":"v","t":60,"m":57,"e":9},{"s":"v","t":62,"m":57,"e":9},{"s":"v","t":64,"m":56,"e":9},{"s":"v","t":66,"m":56,"e":9},{"s":"v","t":68,"m":55,"e":9},{"s":"v","t":70,"m":55,"e":9},{"s":"v","t":72,"m":54,"e":9},{"s":"v","t":74,"m":54,"e":9},{"s":"v","t":76,"m":53,"e":9},{"s":"v","t":78,"m":52,"e":9},{"s":"v","t":80,"m":51,"e":9},{"s":"v","t":82,"m":52,"e":9},{"s":"v","t":84,"m":51,"e":9},{"s":"v","t":86,"m":52,"e":9},{"s":"v","t":88,"m":50,"e":9},{"s":"v","t":90,"m":51,"e":9},{"s":"v","t":92,"m":52,"e":9},{"s":"v","t":94,"m":54,"e":9},{"s":"v","t":96,"m":56,"e":9},{"s":"v","t":98,"m":55,"e":9},{"s":"v","t":100,"m":54,"e":9},{"s":"v","t":102,"m":53,"e":9},{"s":"v","t":104,"m":56,"e":9},{"s":"v","t":106,"m":55,"e":9},{"s":"v","t":108,"m":54,"e":9},{"s":"v","t":110,"m":55,"e":9},{"s":"v","t":112,"m":53,"e":9},{"s":"v","t":114,"m":54,"e":9},{"s":"v","t":116,"m":55,"e":9},{"s":"v","t":118,"m":54,"e":9},{"s":"v","t":120,"m":53,"e":9},{"s":"v","t":122,"m":54,"e":9},{"s":"v","t":124,"m":52,"e":9},{"s":"v","t":126,"m":53,"e":9},{"s":"v","t":128,"m":51,"e":9},{"s":"v","t":130,"m":52,"e":9},{"s":"v","t":132,"m":53,"e":9},{"s":"v","t":134,"m":55,"e":9},{"s":"v","t":136,"m":57,"e":9},{"s":"v","t":138,"m":58,"e":9},{"s":"v","t":140,"m":60,"e":9},{"s":"v","t":142,"m":58,"e":9},{"s":"v","t":144,"m":55,"e":9},{"s":"v","t":146,"m":56,"e":9},{"s":"v","t":148,"m":55,"e":9},{"s":"v","t":150,"m":57,"e":9},{"s":"v","t":152,"m":59,"e":9},{"s":"v","t":154,"m":58,"e":9},{"s":"v","t":156,"m":55,"e":9},{"s":"v","t":158,"m":56,"e":9},{"s":"v","t":160,"m":57,"e":9},{"s":"v","t":162,"m":56,"e":9},{"s":"v","t":164,"m":57,"e":9},{"s":"v","t":166,"m":58,"e":9},{"s":"v","t":168,"m":60,"e":9},
      {"s":"h","t":-12,"m":63,"e":10},{"s":"h","t":-10,"m":65,"e":10},{"s":"h","t":-8,"m":64,"e":10},{"s":"h","t":-6,"m":62,"e":10},{"s":"h","t":-4,"m":64,"e":10},{"s":"h","t":-2,"m":60,"e":10},{"s":"h","t":0,"m":30,"e":6},{"s":"h","t":2,"m":54,"e":10},{"s":"h","t":4,"m":58,"e":11},{"s":"h","t":6,"m":61,"e":12},{"s":"h","t":8,"m":67,"e":13},{"s":"h","t":10,"m":70,"e":14},{"s":"h","t":12,"m":73,"e":14},{"s":"h","t":14,"m":75,"e":14},{"s":"h","t":16,"m":78,"e":15},{"s":"h","t":18,"m":80,"e":15},{"s":"h","t":20,"m":81,"e":15},{"s":"h","t":22,"m":83,"e":15},{"s":"h","t":24,"m":84,"e":15},{"s":"h","t":26,"m":83,"e":15},{"s":"h","t":28,"m":82,"e":15},{"s":"h","t":30,"m":80,"e":15},{"s":"h","t":32,"m":79,"e":15},{"s":"h","t":34,"m":80,"e":15},{"s":"h","t":36,"m":82,"e":15},{"s":"h","t":38,"m":80,"e":15},{"s":"h","t":40,"m":78,"e":15},{"s":"h","t":42,"m":77,"e":15},{"s":"h","t":44,"m":75,"e":15},{"s":"h","t":46,"m":78,"e":15},{"s":"h","t":48,"m":81,"e":15},{"s":"h","t":50,"m":80,"e":15},{"s":"h","t":52,"m":78,"e":15},{"s":"h","t":54,"m":77,"e":15},{"s":"h","t":56,"m":76,"e":15},{"s":"h","t":58,"m":77,"e":15},{"s":"h","t":60,"m":76,"e":15},{"s":"h","t":62,"m":73,"e":14},{"s":"h","t":64,"m":71,"e":14},{"s":"h","t":66,"m":69,"e":13},{"s":"h","t":68,"m":67,"e":13},{"s":"h","t":70,"m":64,"e":12},{"s":"h","t":72,"m":61,"e":12},{"s":"h","t":74,"m":60,"e":12},{"s":"h","t":76,"m":59,"e":12},{"s":"h","t":78,"m":58,"e":12},{"s":"h","t":80,"m":58,"e":12},{"s":"h","t":82,"m":57,"e":13},{"s":"h","t":84,"m":56,"e":13},{"s":"h","t":86,"m":57,"e":14},{"s":"h","t":88,"m":59,"e":15},{"s":"h","t":90,"m":62,"e":15},{"s":"h","t":92,"m":64,"e":16},{"s":"h","t":94,"m":66,"e":16},{"s":"h","t":96,"m":67,"e":17},{"s":"h","t":98,"m":66,"e":17},{"s":"h","t":100,"m":64,"e":17},{"s":"h","t":102,"m":62,"e":17},{"s":"h","t":104,"m":61,"e":17},{"s":"h","t":106,"m":62,"e":17},{"s":"h","t":108,"m":63,"e":17},{"s":"h","t":110,"m":64,"e":17},{"s":"h","t":112,"m":65,"e":17},{"s":"h","t":114,"m":67,"e":17},{"s":"h","t":116,"m":68,"e":17},{"s":"h","t":118,"m":70,"e":17},{"s":"h","t":120,"m":72,"e":18},{"s":"h","t":122,"m":71,"e":17},{"s":"h","t":124,"m":70,"e":17},{"s":"h","t":126,"m":69,"e":16},{"s":"h","t":128,"m":67,"e":16},{"s":"h","t":130,"m":65,"e":15},{"s":"h","t":132,"m":64,"e":15},{"s":"h","t":134,"m":62,"e":14},{"s":"h","t":136,"m":61,"e":14},{"s":"h","t":138,"m":62,"e":14},{"s":"h","t":140,"m":63,"e":14},{"s":"h","t":142,"m":61,"e":13},{"s":"h","t":144,"m":60,"e":13},{"s":"h","t":146,"m":61,"e":13},{"s":"h","t":148,"m":62,"e":13},{"s":"h","t":150,"m":63,"e":13},{"s":"h","t":152,"m":64,"e":13},{"s":"h","t":154,"m":62,"e":13},{"s":"h","t":156,"m":60,"e":13},{"s":"h","t":158,"m":58,"e":13},{"s":"h","t":160,"m":57,"e":13},{"s":"h","t":162,"m":58,"e":13},{"s":"h","t":164,"m":59,"e":13},{"s":"h","t":166,"m":61,"e":13},{"s":"h","t":168,"m":62,"e":13},
      {"s":"l","t":-12,"m":63,"e":8},{"s":"l","t":-10,"m":64,"e":8},{"s":"l","t":-8,"m":65,"e":8},{"s":"l","t":-6,"m":64,"e":8},{"s":"l","t":-4,"m":66,"e":8},{"s":"l","t":-2,"m":65,"e":8},{"s":"l","t":0,"m":35,"e":6},{"s":"l","t":2,"m":59,"e":7},{"s":"l","t":4,"m":62,"e":7},{"s":"l","t":6,"m":63,"e":7},{"s":"l","t":8,"m":65,"e":7},{"s":"l","t":10,"m":64,"e":7},{"s":"l","t":12,"m":62,"e":7},{"s":"l","t":14,"m":61,"e":7},{"s":"l","t":16,"m":62,"e":7},{"s":"l","t":18,"m":64,"e":7},{"s":"l","t":20,"m":66,"e":7},{"s":"l","t":22,"m":68,"e":7},{"s":"l","t":24,"m":71,"e":7},{"s":"l","t":26,"m":72,"e":7},{"s":"l","t":28,"m":73,"e":7},{"s":"l","t":30,"m":72,"e":7},{"s":"l","t":32,"m":70,"e":7},{"s":"l","t":34,"m":69,"e":7},{"s":"l","t":36,"m":68,"e":7},{"s":"l","t":38,"m":67,"e":7},{"s":"l","t":40,"m":65,"e":7},{"s":"l","t":42,"m":63,"e":7},{"s":"l","t":44,"m":61,"e":7},{"s":"l","t":46,"m":60,"e":6},{"s":"l","t":48,"m":59,"e":6},{"s":"l","t":50,"m":58,"e":6},{"s":"l","t":52,"m":57,"e":6},{"s":"l","t":54,"m":57,"e":6},{"s":"l","t":56,"m":56,"e":6},{"s":"l","t":58,"m":57,"e":6},{"s":"l","t":60,"m":57,"e":6},{"s":"l","t":62,"m":56,"e":6},{"s":"l","t":64,"m":56,"e":6},{"s":"l","t":66,"m":55,"e":6},{"s":"l","t":68,"m":55,"e":6},{"s":"l","t":70,"m":54,"e":6},{"s":"l","t":72,"m":54,"e":6},{"s":"l","t":74,"m":55,"e":6},{"s":"l","t":76,"m":56,"e":6},{"s":"l","t":78,"m":57,"e":7},{"s":"l","t":80,"m":57,"e":7},{"s":"l","t":82,"m":58,"e":7},{"s":"l","t":84,"m":59,"e":7},{"s":"l","t":86,"m":60,"e":7},{"s":"l","t":88,"m":61,"e":7},{"s":"l","t":90,"m":63,"e":7},{"s":"l","t":92,"m":64,"e":7},{"s":"l","t":94,"m":65,"e":7},{"s":"l","t":96,"m":67,"e":7},{"s":"l","t":98,"m":68,"e":7},{"s":"l","t":100,"m":70,"e":7},{"s":"l","t":102,"m":69,"e":7},{"s":"l","t":104,"m":68,"e":7},{"s":"l","t":106,"m":70,"e":7},{"s":"l","t":108,"m":71,"e":7},{"s":"l","t":110,"m":70,"e":7},{"s":"l","t":112,"m":72,"e":7},{"s":"l","t":114,"m":71,"e":7},{"s":"l","t":116,"m":70,"e":7},{"s":"l","t":118,"m":72,"e":8},{"s":"l","t":120,"m":71,"e":8},{"s":"l","t":122,"m":73,"e":8},{"s":"l","t":124,"m":74,"e":8},{"s":"l","t":126,"m":72,"e":8},{"s":"l","t":128,"m":71,"e":8},{"s":"l","t":130,"m":70,"e":8},{"s":"l","t":132,"m":71,"e":8},{"s":"l","t":134,"m":72,"e":8},{"s":"l","t":136,"m":73,"e":8},{"s":"l","t":138,"m":71,"e":8},{"s":"l","t":140,"m":70,"e":8},{"s":"l","t":142,"m":71,"e":8},{"s":"l","t":144,"m":72,"e":8},{"s":"l","t":146,"m":70,"e":8},{"s":"l","t":148,"m":69,"e":8},{"s":"l","t":150,"m":70,"e":8},{"s":"l","t":152,"m":71,"e":8},{"s":"l","t":154,"m":70,"e":8},{"s":"l","t":156,"m":68,"e":8},{"s":"l","t":158,"m":69,"e":8},{"s":"l","t":160,"m":70,"e":8},{"s":"l","t":162,"m":68,"e":8},{"s":"l","t":164,"m":67,"e":8},{"s":"l","t":166,"m":69,"e":8},{"s":"l","t":168,"m":71,"e":8}
    ],
    "tmp": [
      {"s":"v","t":-12,"m":39.46,"e":0.07},{"s":"v","t":-10,"m":39.45,"e":0.07},{"s":"v","t":-8,"m":39.43,"e":0.07},{"s":"v","t":-6,"m":39.44,"e":0.07},{"s":"v","t":-4,"m":39.42,"e":0.07},{"s":"v","t":-2,"m":39.40,"e":0.07},{"s":"v","t":0,"m":39.44,"e":0.08},{"s":"v","t":2,"m":39.43,"e":0.07},{"s":"v","t":4,"m":39.45,"e":0.07},{"s":"v","t":6,"m":39.44,"e":0.07},{"s":"v","t":8,"m":39.46,"e":0.07},{"s":"v","t":10,"m":39.45,"e":0.07},{"s":"v","t":12,"m":39.43,"e":0.07},{"s":"v","t":14,"m":39.42,"e":0.07},{"s":"v","t":16,"m":39.44,"e":0.07},{"s":"v","t":18,"m":39.43,"e":0.07},{"s":"v","t":20,"m":39.42,"e":0.07},{"s":"v","t":22,"m":39.40,"e":0.07},{"s":"v","t":24,"m":39.38,"e":0.07},{"s":"v","t":26,"m":39.35,"e":0.07},{"s":"v","t":28,"m":39.33,"e":0.07},{"s":"v","t":30,"m":39.34,"e":0.07},{"s":"v","t":32,"m":39.36,"e":0.07},{"s":"v","t":34,"m":39.35,"e":0.07},{"s":"v","t":36,"m":39.33,"e":0.07},{"s":"v","t":38,"m":39.34,"e":0.07},{"s":"v","t":40,"m":39.32,"e":0.07},{"s":"v","t":42,"m":39.30,"e":0.07},{"s":"v","t":44,"m":39.28,"e":0.07},{"s":"v","t":46,"m":39.24,"e":0.07},{"s":"v","t":48,"m":39.20,"e":0.07},{"s":"v","t":50,"m":39.18,"e":0.07},{"s":"v","t":52,"m":39.19,"e":0.07},{"s":"v","t":54,"m":39.22,"e":0.07},{"s":"v","t":56,"m":39.26,"e":0.07},{"s":"v","t":58,"m":39.30,"e":0.07},{"s":"v","t":60,"m":39.33,"e":0.07},{"s":"v","t":62,"m":39.35,"e":0.07},{"s":"v","t":64,"m":39.34,"e":0.07},{"s":"v","t":66,"m":39.33,"e":0.07},{"s":"v","t":68,"m":39.36,"e":0.07},{"s":"v","t":70,"m":39.34,"e":0.07},{"s":"v","t":72,"m":39.32,"e":0.07},{"s":"v","t":74,"m":39.34,"e":0.07},{"s":"v","t":76,"m":39.36,"e":0.07},{"s":"v","t":78,"m":39.35,"e":0.07},{"s":"v","t":80,"m":39.38,"e":0.07},{"s":"v","t":82,"m":39.33,"e":0.07},{"s":"v","t":84,"m":39.36,"e":0.07},{"s":"v","t":86,"m":39.40,"e":0.07},{"s":"v","t":88,"m":39.42,"e":0.07},{"s":"v","t":90,"m":39.38,"e":0.07},{"s":"v","t":92,"m":39.36,"e":0.07},{"s":"v","t":94,"m":39.34,"e":0.07},{"s":"v","t":96,"m":39.35,"e":0.07},{"s":"v","t":98,"m":39.33,"e":0.07},{"s":"v","t":100,"m":39.32,"e":0.07},{"s":"v","t":102,"m":39.35,"e":0.07},{"s":"v","t":104,"m":39.38,"e":0.07},{"s":"v","t":106,"m":39.40,"e":0.07},{"s":"v","t":108,"m":39.37,"e":0.07},{"s":"v","t":110,"m":39.34,"e":0.07},{"s":"v","t":112,"m":39.36,"e":0.07},{"s":"v","t":114,"m":39.40,"e":0.08},{"s":"v","t":116,"m":39.44,"e":0.08},{"s":"v","t":118,"m":39.42,"e":0.08},{"s":"v","t":120,"m":39.38,"e":0.08},{"s":"v","t":122,"m":39.42,"e":0.09},{"s":"v","t":124,"m":39.47,"e":0.1},{"s":"v","t":126,"m":39.50,"e":0.12},{"s":"v","t":128,"m":39.54,"e":0.13},{"s":"v","t":130,"m":39.58,"e":0.14},{"s":"v","t":132,"m":39.60,"e":0.14},{"s":"v","t":134,"m":39.62,"e":0.14},{"s":"v","t":136,"m":39.56,"e":0.13},{"s":"v","t":138,"m":39.48,"e":0.12},{"s":"v","t":140,"m":39.40,"e":0.11},{"s":"v","t":142,"m":39.32,"e":0.1},{"s":"v","t":144,"m":39.38,"e":0.1},{"s":"v","t":146,"m":39.42,"e":0.1},{"s":"v","t":148,"m":39.45,"e":0.1},{"s":"v","t":150,"m":39.48,"e":0.1},{"s":"v","t":152,"m":39.50,"e":0.1},{"s":"v","t":154,"m":39.52,"e":0.1},{"s":"v","t":156,"m":39.55,"e":0.1},{"s":"v","t":158,"m":39.56,"e":0.1},{"s":"v","t":160,"m":39.55,"e":0.1},{"s":"v","t":162,"m":39.50,"e":0.1},{"s":"v","t":164,"m":39.46,"e":0.1},{"s":"v","t":166,"m":39.40,"e":0.1},{"s":"v","t":168,"m":39.32,"e":0.1},
      {"s":"h","t":-12,"m":39.07,"e":0.28},{"s":"h","t":-10,"m":39.10,"e":0.28},{"s":"h","t":-8,"m":39.15,"e":0.28},{"s":"h","t":-6,"m":39.18,"e":0.28},{"s":"h","t":-4,"m":39.22,"e":0.28},{"s":"h","t":-2,"m":39.10,"e":0.3},{"s":"h","t":0,"m":39.02,"e":0.3},{"s":"h","t":2,"m":39.04,"e":0.3},{"s":"h","t":4,"m":39.08,"e":0.3},{"s":"h","t":6,"m":39.10,"e":0.28},{"s":"h","t":8,"m":39.15,"e":0.28},{"s":"h","t":10,"m":39.18,"e":0.28},{"s":"h","t":12,"m":39.22,"e":0.28},{"s":"h","t":14,"m":39.20,"e":0.28},{"s":"h","t":16,"m":39.26,"e":0.28},{"s":"h","t":18,"m":39.22,"e":0.28},{"s":"h","t":20,"m":39.18,"e":0.28},{"s":"h","t":22,"m":39.24,"e":0.28},{"s":"h","t":24,"m":39.22,"e":0.28},{"s":"h","t":26,"m":39.18,"e":0.28},{"s":"h","t":28,"m":39.15,"e":0.28},{"s":"h","t":30,"m":39.20,"e":0.28},{"s":"h","t":32,"m":39.18,"e":0.28},{"s":"h","t":34,"m":39.16,"e":0.28},{"s":"h","t":36,"m":39.14,"e":0.28},{"s":"h","t":38,"m":39.10,"e":0.28},{"s":"h","t":40,"m":39.08,"e":0.28},{"s":"h","t":42,"m":39.06,"e":0.28},{"s":"h","t":44,"m":39.10,"e":0.28},{"s":"h","t":46,"m":39.08,"e":0.28},{"s":"h","t":48,"m":39.05,"e":0.28},{"s":"h","t":50,"m":39.10,"e":0.28},{"s":"h","t":52,"m":39.14,"e":0.28},{"s":"h","t":54,"m":39.20,"e":0.3},{"s":"h","t":56,"m":39.24,"e":0.3},{"s":"h","t":58,"m":39.20,"e":0.32},{"s":"h","t":60,"m":39.15,"e":0.34},{"s":"h","t":62,"m":39.05,"e":0.36},{"s":"h","t":64,"m":38.98,"e":0.38},{"s":"h","t":66,"m":38.95,"e":0.4},{"s":"h","t":68,"m":38.94,"e":0.4},{"s":"h","t":70,"m":38.96,"e":0.42},{"s":"h","t":72,"m":38.92,"e":0.42},{"s":"h","t":74,"m":38.88,"e":0.4},{"s":"h","t":76,"m":38.86,"e":0.4},{"s":"h","t":78,"m":38.90,"e":0.4},{"s":"h","t":80,"m":38.95,"e":0.42},{"s":"h","t":82,"m":39.05,"e":0.45},{"s":"h","t":84,"m":39.15,"e":0.55},{"s":"h","t":86,"m":39.25,"e":0.6},{"s":"h","t":88,"m":39.30,"e":0.62},{"s":"h","t":90,"m":39.22,"e":0.6},{"s":"h","t":92,"m":39.10,"e":0.55},{"s":"h","t":94,"m":38.95,"e":0.5},{"s":"h","t":96,"m":38.82,"e":0.45},{"s":"h","t":98,"m":38.80,"e":0.45},{"s":"h","t":100,"m":38.83,"e":0.45},{"s":"h","t":102,"m":38.86,"e":0.45},{"s":"h","t":104,"m":38.82,"e":0.45},{"s":"h","t":106,"m":38.85,"e":0.45},{"s":"h","t":108,"m":38.80,"e":0.45},{"s":"h","t":110,"m":38.78,"e":0.45},{"s":"h","t":112,"m":38.82,"e":0.45},{"s":"h","t":114,"m":38.85,"e":0.45},{"s":"h","t":116,"m":38.88,"e":0.45},{"s":"h","t":118,"m":38.92,"e":0.45},{"s":"h","t":120,"m":38.88,"e":0.45},{"s":"h","t":122,"m":38.84,"e":0.45},{"s":"h","t":124,"m":38.80,"e":0.45},{"s":"h","t":126,"m":38.78,"e":0.45},{"s":"h","t":128,"m":38.72,"e":0.45},{"s":"h","t":130,"m":38.68,"e":0.48},{"s":"h","t":132,"m":38.75,"e":0.45},{"s":"h","t":134,"m":38.80,"e":0.45},{"s":"h","t":136,"m":38.78,"e":0.42},{"s":"h","t":138,"m":38.76,"e":0.42},{"s":"h","t":140,"m":38.82,"e":0.42},{"s":"h","t":142,"m":38.86,"e":0.42},{"s":"h","t":144,"m":38.84,"e":0.42},{"s":"h","t":146,"m":38.88,"e":0.42},{"s":"h","t":148,"m":38.85,"e":0.42},{"s":"h","t":150,"m":38.82,"e":0.42},{"s":"h","t":152,"m":38.86,"e":0.42},{"s":"h","t":154,"m":38.90,"e":0.42},{"s":"h","t":156,"m":38.86,"e":0.42},{"s":"h","t":158,"m":38.80,"e":0.42},{"s":"h","t":160,"m":38.74,"e":0.42},{"s":"h","t":162,"m":38.72,"e":0.42},{"s":"h","t":164,"m":38.75,"e":0.42},{"s":"h","t":166,"m":38.72,"e":0.42},{"s":"h","t":168,"m":38.68,"e":0.45},
      {"s":"l","t":-12,"m":39.60,"e":0.06},{"s":"l","t":-10,"m":39.52,"e":0.06},{"s":"l","t":-8,"m":39.48,"e":0.06},{"s":"l","t":-6,"m":39.46,"e":0.06},{"s":"l","t":-4,"m":39.48,"e":0.06},{"s":"l","t":-2,"m":39.45,"e":0.06},{"s":"l","t":0,"m":39.52,"e":0.07},{"s":"l","t":2,"m":39.50,"e":0.06},{"s":"l","t":4,"m":39.52,"e":0.06},{"s":"l","t":6,"m":39.55,"e":0.06},{"s":"l","t":8,"m":39.56,"e":0.06},{"s":"l","t":10,"m":39.54,"e":0.06},{"s":"l","t":12,"m":39.62,"e":0.07},{"s":"l","t":14,"m":39.58,"e":0.06},{"s":"l","t":16,"m":39.52,"e":0.06},{"s":"l","t":18,"m":39.60,"e":0.06},{"s":"l","t":20,"m":39.55,"e":0.06},{"s":"l","t":22,"m":39.50,"e":0.06},{"s":"l","t":24,"m":39.48,"e":0.06},{"s":"l","t":26,"m":39.52,"e":0.06},{"s":"l","t":28,"m":39.55,"e":0.06},{"s":"l","t":30,"m":39.52,"e":0.06},{"s":"l","t":32,"m":39.56,"e":0.06},{"s":"l","t":34,"m":39.50,"e":0.06},{"s":"l","t":36,"m":39.45,"e":0.06},{"s":"l","t":38,"m":39.42,"e":0.06},{"s":"l","t":40,"m":39.40,"e":0.06},{"s":"l","t":42,"m":39.38,"e":0.06},{"s":"l","t":44,"m":39.36,"e":0.06},{"s":"l","t":46,"m":39.40,"e":0.06},{"s":"l","t":48,"m":39.45,"e":0.06},{"s":"l","t":50,"m":39.52,"e":0.06},{"s":"l","t":52,"m":39.60,"e":0.07},{"s":"l","t":54,"m":39.66,"e":0.07},{"s":"l","t":56,"m":39.62,"e":0.07},{"s":"l","t":58,"m":39.56,"e":0.06},{"s":"l","t":60,"m":39.52,"e":0.06},{"s":"l","t":62,"m":39.50,"e":0.06},{"s":"l","t":64,"m":39.47,"e":0.06},{"s":"l","t":66,"m":39.46,"e":0.06},{"s":"l","t":68,"m":39.48,"e":0.06},{"s":"l","t":70,"m":39.44,"e":0.06},{"s":"l","t":72,"m":39.43,"e":0.06},{"s":"l","t":74,"m":39.46,"e":0.06},{"s":"l","t":76,"m":39.48,"e":0.06},{"s":"l","t":78,"m":39.50,"e":0.06},{"s":"l","t":80,"m":39.52,"e":0.06},{"s":"l","t":82,"m":39.56,"e":0.06},{"s":"l","t":84,"m":39.58,"e":0.06},{"s":"l","t":86,"m":39.57,"e":0.06},{"s":"l","t":88,"m":39.53,"e":0.06},{"s":"l","t":90,"m":39.48,"e":0.06},{"s":"l","t":92,"m":39.45,"e":0.06},{"s":"l","t":94,"m":39.44,"e":0.06},{"s":"l","t":96,"m":39.48,"e":0.06},{"s":"l","t":98,"m":39.50,"e":0.06},{"s":"l","t":100,"m":39.48,"e":0.06},{"s":"l","t":102,"m":39.47,"e":0.06},{"s":"l","t":104,"m":39.49,"e":0.06},{"s":"l","t":106,"m":39.46,"e":0.06},{"s":"l","t":108,"m":39.45,"e":0.06},{"s":"l","t":110,"m":39.43,"e":0.06},{"s":"l","t":112,"m":39.40,"e":0.06},{"s":"l","t":114,"m":39.35,"e":0.06},{"s":"l","t":116,"m":39.32,"e":0.06},{"s":"l","t":118,"m":39.38,"e":0.06},{"s":"l","t":120,"m":39.43,"e":0.06},{"s":"l","t":122,"m":39.46,"e":0.06},{"s":"l","t":124,"m":39.48,"e":0.06},{"s":"l","t":126,"m":39.50,"e":0.06},{"s":"l","t":128,"m":39.47,"e":0.06},{"s":"l","t":130,"m":39.46,"e":0.06},{"s":"l","t":132,"m":39.48,"e":0.06},{"s":"l","t":134,"m":39.44,"e":0.06},{"s":"l","t":136,"m":39.42,"e":0.06},{"s":"l","t":138,"m":39.45,"e":0.06},{"s":"l","t":140,"m":39.48,"e":0.06},{"s":"l","t":142,"m":39.52,"e":0.06},{"s":"l","t":144,"m":39.55,"e":0.06},{"s":"l","t":146,"m":39.58,"e":0.06},{"s":"l","t":148,"m":39.62,"e":0.06},{"s":"l","t":150,"m":39.64,"e":0.06},{"s":"l","t":152,"m":39.62,"e":0.06},{"s":"l","t":154,"m":39.60,"e":0.06},{"s":"l","t":156,"m":39.63,"e":0.06},{"s":"l","t":158,"m":39.58,"e":0.06},{"s":"l","t":160,"m":39.56,"e":0.06},{"s":"l","t":162,"m":39.55,"e":0.06},{"s":"l","t":164,"m":39.52,"e":0.06},{"s":"l","t":166,"m":39.54,"e":0.06},{"s":"l","t":168,"m":39.55,"e":0.06}
    ]
  },
  "spacing": 35,
  "bounds": "flush",
  "resolve": {
    "scale": {"color": "independent", "strokeDash": "independent"},
    "legend": {"color": "independent", "strokeDash": "independent"}
  },
  "vconcat": [
    {
      "width": 700,
      "height": 363,
      "data": {"name": "emg"},
      "encoding": {
        "x": {"field": "t", "type": "quantitative", "scale": {"domain": [-12, 168], "nice": false}, "axis": null},
        "y": {"field": "m", "type": "quantitative", "scale": {"domain": [0, 8], "nice": false, "zero": false}, "axis": {"values": [0, 2, 4, 6, 8], "domainColor": "#000000", "domainWidth": 6, "tickColor": "#000000", "tickWidth": 5, "tickSize": 7, "title": ["Nuchal EMG", "(uV)"], "titleX": -141, "titleY": 160}}
      },
      "layer": [
        {
          "mark": {"type": "errorbar", "ticks": {"size": 5}, "thickness": 1.2},
          "encoding": {
            "yError": {"field": "e"},
            "color": {"field": "s", "type": "nominal", "scale": {"domain": ["v", "h", "l"], "range": ["#000000", "#ff0000", "#0000cc"]},
              "legend": {"title": null, "orient": "none", "legendX": 303, "legendY": 17, "symbolType": "stroke", "symbolSize": 900, "symbolStrokeWidth": 2.5, "labelFontSize": 23, "labelFont": "Liberation Sans", "labelFontWeight": "normal", "labelColor": "#000000", "labelLimit": 400, "labelOffset": 13, "rowPadding": 11, "padding": 0,
                "labelExpr": "datum.label == 'v' ? 'ischaemia-vehicle' : datum.label == 'h' ? 'ischaemia-high dose' : 'ischaemia-low dose'"}}
          }
        },
        {
          "transform": [{"filter": "datum.s == 'v'"}],
          "mark": {"type": "line", "strokeWidth": 1.5},
          "encoding": {
            "color": {"field": "s", "type": "nominal"},
            "strokeDash": {"field": "s", "type": "nominal", "scale": {"domain": ["v", "h", "l"], "range": [[1, 0], [7, 3], [2, 2]]},
              "legend": {"title": null, "orient": "none", "legendX": 303, "legendY": 17, "symbolType": "stroke", "symbolSize": 900, "symbolStrokeWidth": 2.5, "labelFontSize": 23, "labelFont": "Liberation Sans", "labelFontWeight": "normal", "labelColor": "#000000", "labelLimit": 400, "labelOffset": 13, "rowPadding": 11, "padding": 0,
                "labelExpr": "datum.label == 'v' ? 'ischaemia-vehicle' : datum.label == 'h' ? 'ischaemia-high dose' : 'ischaemia-low dose'"}}
          }
        },
        {
          "transform": [{"filter": "datum.s == 'h'"}],
          "mark": {"type": "line", "strokeWidth": 3},
          "encoding": {"color": {"field": "s", "type": "nominal"}, "strokeDash": {"field": "s", "type": "nominal"}}
        },
        {
          "transform": [{"filter": "datum.s == 'l'"}],
          "mark": {"type": "line", "strokeWidth": 1.5},
          "encoding": {"color": {"field": "s", "type": "nominal"}, "strokeDash": {"field": "s", "type": "nominal"}}
        },
        {
          "transform": [{"filter": "datum.s == 'l'"}],
          "mark": {"type": "point", "shape": "triangle-up", "filled": true, "size": 30, "color": "#0000cc", "opacity": 1}
        },
        {
          "data": {"values": [{}]},
          "mark": {"type": "rule", "color": "#000000", "strokeWidth": 2, "strokeDash": [5, 4]},
          "encoding": {"x": {"datum": 0}, "y": {"datum": 8}, "y2": {"datum": -0.8}}
        }
      ]
    },
    {
      "width": 700,
      "height": 363,
      "data": {"name": "map"},
      "encoding": {
        "x": {"field": "t", "type": "quantitative", "scale": {"domain": [-12, 168], "nice": false}, "axis": null},
        "y": {"field": "m", "type": "quantitative", "scale": {"domain": [60, 140], "nice": false, "zero": false}, "axis": {"values": [60, 80, 100, 120, 140], "domainColor": "#000000", "domainWidth": 6, "tickColor": "#000000", "tickWidth": 5, "tickSize": 7, "title": ["Mean Arterial", "Pressure", "(% baseline)"], "titleX": -150, "titleY": 140}}
      },
      "layer": [
        {
          "mark": {"type": "errorbar", "ticks": {"size": 5}, "thickness": 1.2},
          "encoding": {"yError": {"field": "e"}, "color": {"field": "s", "type": "nominal", "scale": {"domain": ["v", "h", "l"], "range": ["#000000", "#ff0000", "#0000cc"]}, "legend": null}}
        },
        {"transform": [{"filter": "datum.s == 'v'"}], "mark": {"type": "line", "strokeWidth": 1.5, "color": "#000000"}},
        {"transform": [{"filter": "datum.s == 'h'"}], "mark": {"type": "line", "strokeWidth": 3, "color": "#ff0000", "strokeDash": [7, 3]}},
        {"transform": [{"filter": "datum.s == 'l'"}], "mark": {"type": "line", "strokeWidth": 1.5, "color": "#0000cc", "strokeDash": [2, 2]}},
        {"transform": [{"filter": "datum.s == 'l'"}], "mark": {"type": "point", "shape": "triangle-up", "filled": true, "size": 30, "color": "#0000cc", "opacity": 1}},
        {
          "data": {"values": [{}]},
          "mark": {"type": "rule", "color": "#000000", "strokeWidth": 2, "strokeDash": [5, 4]},
          "encoding": {"x": {"datum": 0}, "y": {"datum": 140}, "y2": {"datum": 52.3}}
        }
      ]
    },
    {
      "width": 700,
      "height": 363,
      "data": {"name": "fhr"},
      "encoding": {
        "x": {"field": "t", "type": "quantitative", "scale": {"domain": [-12, 168], "nice": false}, "axis": null},
        "y": {"field": "m", "type": "quantitative", "scale": {"domain": [100, 220], "nice": false, "zero": false}, "axis": {"values": [100, 120, 140, 160, 180, 200, 220], "domainColor": "#000000", "domainWidth": 6, "tickColor": "#000000", "tickWidth": 5, "tickSize": 7, "title": ["Fetal heart", "rate", "(bpm)"], "titleX": -128, "titleY": 140}}
      },
      "layer": [
        {
          "mark": {"type": "errorbar", "ticks": {"size": 5}, "thickness": 1.2},
          "encoding": {"yError": {"field": "e"}, "color": {"field": "s", "type": "nominal", "scale": {"domain": ["v", "h", "l"], "range": ["#000000", "#ff0000", "#0000cc"]}, "legend": null}}
        },
        {"transform": [{"filter": "datum.s == 'v'"}], "mark": {"type": "line", "strokeWidth": 1.5, "color": "#000000"}},
        {"transform": [{"filter": "datum.s == 'h'"}], "mark": {"type": "line", "strokeWidth": 3, "color": "#ff0000", "strokeDash": [7, 3]}},
        {"transform": [{"filter": "datum.s == 'l'"}], "mark": {"type": "line", "strokeWidth": 1.5, "color": "#0000cc", "strokeDash": [2, 2]}},
        {"transform": [{"filter": "datum.s == 'l'"}], "mark": {"type": "point", "shape": "triangle-up", "filled": true, "size": 30, "color": "#0000cc", "opacity": 1}},
        {
          "data": {"values": [{}]},
          "mark": {"type": "rule", "color": "#000000", "strokeWidth": 2, "strokeDash": [5, 4]},
          "encoding": {"x": {"datum": 0}, "y": {"datum": 220}, "y2": {"datum": 88.4}}
        }
      ]
    },
    {
      "width": 700,
      "height": 363,
      "data": {"name": "cbf"},
      "encoding": {
        "x": {"field": "t", "type": "quantitative", "scale": {"domain": [-12, 168], "nice": false}, "axis": null},
        "y": {"field": "m", "type": "quantitative", "scale": {"domain": [0, 150], "nice": false, "zero": false}, "axis": {"values": [0, 50, 100, 150], "domainColor": "#000000", "domainWidth": 6, "tickColor": "#000000", "tickWidth": 5, "tickSize": 7, "title": ["Carotid blood", "flow", "(ml/min)"], "titleX": -151, "titleY": 140}}
      },
      "layer": [
        {
          "mark": {"type": "errorbar", "ticks": {"size": 5}, "thickness": 1.2},
          "encoding": {"yError": {"field": "e"}, "color": {"field": "s", "type": "nominal", "scale": {"domain": ["v", "h", "l"], "range": ["#000000", "#ff0000", "#0000cc"]}, "legend": null}}
        },
        {"transform": [{"filter": "datum.s == 'v'"}], "mark": {"type": "line", "strokeWidth": 1.5, "color": "#000000"}},
        {"transform": [{"filter": "datum.s == 'h'"}], "mark": {"type": "line", "strokeWidth": 3, "color": "#ff0000", "strokeDash": [7, 3]}},
        {"transform": [{"filter": "datum.s == 'l'"}], "mark": {"type": "line", "strokeWidth": 1.5, "color": "#0000cc", "strokeDash": [2, 2]}},
        {"transform": [{"filter": "datum.s == 'l'"}], "mark": {"type": "point", "shape": "triangle-up", "filled": true, "size": 30, "color": "#0000cc", "opacity": 1}},
        {
          "data": {"values": [{}]},
          "mark": {"type": "rule", "color": "#000000", "strokeWidth": 2, "strokeDash": [5, 4]},
          "encoding": {"x": {"datum": 0}, "y": {"datum": 150}, "y2": {"datum": -14.5}}
        }
      ]
    },
    {
      "width": 700,
      "height": 363,
      "data": {"name": "tmp"},
      "encoding": {
        "x": {"field": "t", "type": "quantitative", "scale": {"domain": [-12, 168], "nice": false}, "axis": {"values": [0, 24, 48, 72, 96, 120, 144, 168], "domainColor": "#000000", "domainWidth": 6, "tickColor": "#000000", "tickWidth": 5, "tickSize": 8, "title": "Time (hours)", "titleX": 396}},
        "y": {"field": "m", "type": "quantitative", "scale": {"domain": [38, 42], "nice": false, "zero": false}, "axis": {"values": [38, 39, 40, 41, 42], "domainColor": "#000000", "domainWidth": 6, "tickColor": "#000000", "tickWidth": 5, "tickSize": 7, "title": ["Temperature", "(°C)"], "titleX": -144, "titleY": 161}}
      },
      "layer": [
        {
          "mark": {"type": "errorbar", "ticks": {"size": 5}, "thickness": 1.2},
          "encoding": {"yError": {"field": "e"}, "color": {"field": "s", "type": "nominal", "scale": {"domain": ["v", "h", "l"], "range": ["#000000", "#ff0000", "#0000cc"]}, "legend": null}}
        },
        {"transform": [{"filter": "datum.s == 'v'"}], "mark": {"type": "line", "strokeWidth": 1.5, "color": "#000000"}},
        {"transform": [{"filter": "datum.s == 'h'"}], "mark": {"type": "line", "strokeWidth": 3, "color": "#ff0000", "strokeDash": [7, 3]}},
        {"transform": [{"filter": "datum.s == 'l'"}], "mark": {"type": "line", "strokeWidth": 1.5, "color": "#0000cc", "strokeDash": [2, 2]}},
        {"transform": [{"filter": "datum.s == 'l'"}], "mark": {"type": "point", "shape": "triangle-up", "filled": true, "size": 30, "color": "#0000cc", "opacity": 1}},
        {
          "data": {"values": [{}]},
          "mark": {"type": "rule", "color": "#000000", "strokeWidth": 2, "strokeDash": [5, 4]},
          "encoding": {"x": {"datum": 0}, "y": {"datum": 42}, "y2": {"datum": 37.87}}
        }
      ]
    }
  ]
}
